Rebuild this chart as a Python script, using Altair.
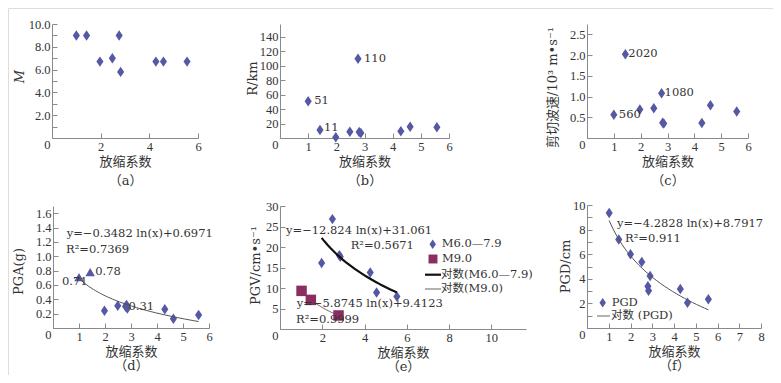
import altair as alt
import pandas as pd

W, H = 765, 367
TICK_FONT = "Liberation Serif"
TXT_FONT = "DejaVu Serif"
CJK = "DejaVu Serif, Noto Sans CJK SC"
BLUE = "#5558A3"
MAROON = "#8C2D62"
AXIS_C = "#8a8a8a"
TXT_C = "#333333"
DIAMOND = "M0,-1L0.68,0L0,1L-0.68,0Z"

# ---------------- data ----------------
# (a) magnitude M vs scale factor
a_x = [1.0, 1.42, 2.76, 1.97, 2.48, 2.82, 4.27, 4.58, 5.55]
a_M = [9.0, 9.0, 9.0, 6.7, 7.0, 5.8, 6.7, 6.7, 6.7]
# (b) distance R (km)
b_x = [1.0, 1.42, 1.98, 2.48, 2.77, 2.81, 2.87, 4.29, 4.62, 5.57]
b_R = [51, 11, 1, 8.8, 110, 8.3, 7, 9.2, 15.7, 14.8]
# (c) shear wave velocity (10^3 m/s)
c_x = [1.0, 1.43, 1.97, 2.49, 2.78, 2.82, 2.86, 4.28, 4.6, 5.58]
c_V = [0.56, 2.02, 0.69, 0.72, 1.08, 0.37, 0.35, 0.36, 0.79, 0.64]
# (d) PGA (g)
d_x = [1.0, 1.43, 1.98, 2.49, 2.79, 2.83, 2.86, 4.3, 4.63, 5.6]
d_A = [0.71, 0.78, 0.24, 0.31, 0.30, 0.32, 0.27, 0.26, 0.13, 0.18]
d_kind = ["tri", "tri", "dia", "dia", "dia", "dia", "dia", "dia", "dia", "dia"]
# (e) PGV (cm/s)
e6_x = [1.97, 2.48, 2.81, 2.85, 4.27, 4.57, 5.53]
e6_V = [16.1, 26.8, 18.0, 17.6, 13.8, 8.9, 7.9]
e9_x = [1.02, 1.46, 2.77]
e9_V = [9.3, 7.1, 3.3]
# (f) PGD (cm)
f_x = [1.02, 1.46, 2.0, 2.52, 2.9, 2.8, 2.83, 4.29, 4.62, 5.58]
f_D = [9.35, 7.2, 6.0, 5.37, 4.23, 3.4, 3.03, 3.17, 2.06, 2.33]

eq_d = ["y=−0.3482 ln(x)+0.6971", "R²=0.7369"]
eq_e = ["y=−12.824 ln(x)+31.061", "R²=0.5671", "y=−5.8745 ln(x)+9.4123", "R²=0.9999"]
eq_f = ["y=−4.2828 ln(x)+8.7917", "R²=0.911"]
leg_e = ["M6.0—7.9", "M9.0", "对数(M6.0—7.9)", "对数(M9.0)"]
leg_f = ["PGD", "对数 (PGD)"]

# ---------------- panel geometry ----------------
P = {
    "a": dict(xr=[44, 190], yr=[130, 16], xd=[0, 6], yd=[0, 10], xt=[0, 2, 4, 6],
              yt=list(range(0, 11)), yle="datum.value % 2 == 0 ? (datum.value == 0 ? '0' : format(datum.value, '.1f')) : ''",
              ytitle="M", tx=-33, ty=68, cap="（a）", italic=True, lh=18.5),
    "b": dict(xr=[272, 441], yr=[130, 16], xd=[0, 6], yd=[0, 158], xt=[0, 1, 2, 3, 4, 5, 6],
              yt=[0, 20, 40, 60, 80, 100, 120, 140], yle="datum.label",
              ytitle="R/km", tx=-28, ty=70, cap="（b）", italic=False, lh=18.5),
    "c": dict(xr=[579, 740], yr=[130, 16], xd=[0, 6], yd=[0, 2.75], xt=[0, 1, 2, 3, 4, 5, 6],
              yt=[0, 0.5, 1.0, 1.5, 2.0, 2.5], yle="datum.value == 0 ? '0' : format(datum.value, '.1f')",
              ytitle="剪切波速/10³ m•s⁻¹", tx=-35, ty=79, cap="（c）", italic=False, lh=18.5),
    "d": dict(xr=[45, 201], yr=[320, 198], xd=[0, 6], yd=[0, 1.7], xt=[0, 1, 2, 3, 4, 5, 6],
              yt=[0, 0.2, 0.4, 0.6, 0.8, 1.0, 1.2, 1.4, 1.6], yle="datum.value == 0 ? '0' : format(datum.value, '.1f')",
              ytitle="PGA(g)", tx=-35, ty=263, cap="（d）", italic=False, lh=14),
    "e": dict(xr=[272, 518], yr=[321, 198], xd=[0, 11.64], yd=[0, 30], xt=[0, 2, 4, 6, 8, 10],
              yt=[0, 5, 10, 15, 20, 25, 30], yle="datum.label",
              ytitle="PGV/cm•s⁻¹", tx=-25, ty=257, cap="（e）", italic=False, lh=13.5),
    "f": dict(xr=[579, 753], yr=[320, 197], xd=[0, 8], yd=[0, 10], xt=[0, 1, 2, 3, 4, 5, 6, 7, 8],
              yt=list(range(0, 11)), yle="datum.value % 2 == 0 ? datum.label : ''",
              ytitle="PGD/cm", tx=-22, ty=258, cap="（f）", italic=False, lh=14),
}

INWARD = {"expr": "-5"}


def x_axis(p):
    return alt.Axis(
        orient="bottom", offset=p["yr"][0] - H, values=p["xt"],
        labelExpr="datum.value == 0 ? '' : datum.label",
        title=["放缩系数", p["cap"]], titleY=17.5, titleBaseline="top", titleLineHeight=p["lh"],
        titleFont=CJK, titleFontSize=13, titleFontWeight="normal", titleColor=TXT_C,
        labelFont=TICK_FONT, labelFontSize=12.5, labelColor=TXT_C, labelPadding=7,
        labelFlush=False, labelOverlap=False, grid=False,
        tickSize=INWARD, tickColor=AXIS_C, domainColor=AXIS_C,
    )


def y_axis(p):
    return alt.Axis(
        orient="left", offset=-p["xr"][0], values=p["yt"], labelExpr=p["yle"],
        title=p["ytitle"], titleX=p["tx"], titleY=p["ty"], titleAngle=270,
        titleBaseline="middle", titleAlign="center",
        titleFont=CJK, titleFontSize=13, titleFontWeight="normal", titleColor=TXT_C,
        titleFontStyle="italic" if p["italic"] else "normal",
        labelFont=TICK_FONT, labelFontSize=12.5, labelColor=TXT_C, labelPadding=7,
        labelBaseline={"condition": {"test": "datum.value == 0", "value": "top"}, "value": "middle"},
        labelFlush=False, labelOverlap=False, grid=False,
        tickSize=INWARD, tickColor=AXIS_C, domainColor=AXIS_C,
    )


def X(p, axis=False):
    return alt.X("x:Q", scale=alt.Scale(domain=p["xd"], range=p["xr"], nice=False, zero=False),
                 axis=x_axis(p) if axis else None)


def Y(p, axis=False):
    return alt.Y("y:Q", scale=alt.Scale(domain=p["yd"], range=p["yr"], nice=False, zero=False),
                 axis=y_axis(p) if axis else None)


def pts(df, p, shape=DIAMOND, color=BLUE, size=110, axis=False):
    return alt.Chart(df).mark_point(shape=shape, filled=True, color=color, size=size, opacity=1).encode(
        x=X(p, axis), y=Y(p, axis))


def fit(df, p, color="#555555", width=1.0):
    return alt.Chart(df).transform_regression("x", "y", method="log").mark_line(
        color=color, strokeWidth=width).encode(x=X(p), y=Y(p))


def label(xs, ys, i, txt, p, dx, dy=0):
    df = pd.DataFrame({"x": [xs[i]], "y": [ys[i]], "t": [txt]})
    return alt.Chart(df).mark_text(align="left", baseline="middle", dx=dx, dy=dy, font=TXT_FONT,
                                   fontSize=11.5, color=TXT_C).encode(x=X(p), y=Y(p), text="t:N")


def note(txt, x, y, size=11.5, font=TXT_FONT):
    return alt.Chart(pd.DataFrame({"t": [txt]})).mark_text(
        align="left", baseline="middle", font=font, fontSize=size, color=TXT_C).encode(
        x=alt.value(x), y=alt.value(y), text="t:N")


def sym(x, y, shape, color, size=90):
    return alt.Chart(pd.DataFrame({"t": [0]})).mark_point(
        shape=shape, filled=True, color=color, size=size, opacity=1).encode(x=alt.value(x), y=alt.value(y))


def seg(x1, x2, y, color, width):
    return alt.Chart(pd.DataFrame({"t": [0]})).mark_rule(color=color, strokeWidth=width).encode(
        x=alt.value(x1), x2=alt.value(x2), y=alt.value(y))


layers = []

# (a)
pa_ = P["a"]
dfa = pd.DataFrame({"x": a_x, "y": a_M})
layers += [pts(dfa, pa_, axis=True)]

# (b)
pb_ = P["b"]
dfb = pd.DataFrame({"x": b_x, "y": b_R})
layers += [
    pts(dfb, pb_, axis=True),
    label(b_x, b_R, 0, "51", pb_, 6),
    label(b_x, b_R, 1, "11", pb_, 4, -2),
    label(b_x, b_R, 4, "110", pb_, 6),
]

# (c)
pc_ = P["c"]
dfc = pd.DataFrame({"x": c_x, "y": c_V})
layers += [
    pts(dfc, pc_, axis=True),
    label(c_x, c_V, 1, "2020", pc_, 3),
    label(c_x, c_V, 4, "1080", pc_, 3),
    label(c_x, c_V, 0, "560", pc_, 5),
]

# (d)
pd_ = P["d"]
dfd = pd.DataFrame({"x": d_x, "y": d_A, "k": d_kind})
layers += [
    pts(dfd[dfd.k == "dia"][["x", "y"]], pd_, axis=True),
    pts(dfd[dfd.k == "tri"][["x", "y"]], pd_, shape="triangle-up", size=90),
    fit(dfd[["x", "y"]], pd_),
    label(d_x, d_A, 1, "0.78", pd_, 5),
    label(d_x, d_A, 0, "0.71", pd_, -17, 5),
    label(d_x, d_A, 4, "0.31", pd_, 3, 1),
    note(eq_d[0], 58.7, 225.7),
    note(eq_d[1], 58, 242.3),
]

# (e)
pe_ = P["e"]
dfe6 = pd.DataFrame({"x": e6_x, "y": e6_V})
dfe9 = pd.DataFrame({"x": e9_x, "y": e9_V})
layers += [
    pts(dfe6, pe_, axis=True),
    fit(dfe6, pe_, color="#111111", width=2.2),
    fit(dfe9, pe_, color="#666666", width=1.0),
    pts(dfe9, pe_, shape="square", color=MAROON, size=110),
    note(eq_e[0], 278, 223),
    note(eq_e[1], 342.7, 237.7),
    note(eq_e[2], 288.7, 296),
    note(eq_e[3], 288, 312),
    sym(424.7, 236.3, DIAMOND, BLUE),
    sym(425, 251, "square", MAROON, 80),
    seg(417, 433, 266.7, "#111111", 2.2),
    seg(417, 433, 281, "#666666", 1),
    note(leg_e[0], 433.7, 236.3),
    note(leg_e[1], 434, 251),
    note(leg_e[2], 433, 266.7, font=CJK),
    note(leg_e[3], 433, 281, font=CJK),
]

# (f)
pf_ = P["f"]
dff = pd.DataFrame({"x": f_x, "y": f_D})
layers += [
    pts(dff, pf_, axis=True),
    fit(dff, pf_),
    note(eq_f[0], 609, 216.3),
    note(eq_f[1], 617, 231.3),
    sym(594.7, 294.7, DIAMOND, BLUE),
    seg(589, 602, 308, "#666666", 1),
    note(leg_f[0], 603.7, 294.7, font=CJK),
    note(leg_f[1], 603, 308, font=CJK),
]

chart = alt.layer(*layers).resolve_scale(
    x="independent", y="independent"
).properties(
    width=W, height=H, autosize=alt.AutoSizeParams(type="none"), padding=0
).configure_view(strokeWidth=0).configure(background="white")

chart.save("out.html", embed_options={"renderer": "svg", "actions": False})
